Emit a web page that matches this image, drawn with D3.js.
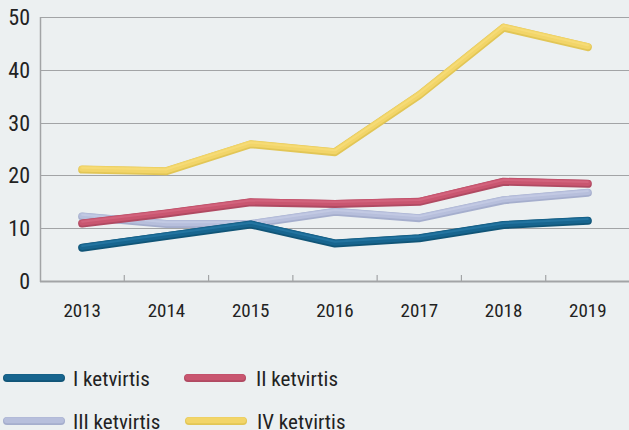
<!DOCTYPE html>
<html>
<head>
<meta charset="utf-8" />
<title>Ketvirčiai 2013–2019</title>
<style>
  html, body { margin: 0; padding: 0; background: #ecf0f1; }
  svg text { font-family: "Roboto Condensed", "Liberation Sans Narrow", "DejaVu Sans Condensed", Roboto, sans-serif; fill: #222; }
</style>
</head>
<body>
<script src="https://d3js.org/d3.v7.min.js"></script>
<script>

var years = ["2013", "2014", "2015", "2016", "2017", "2018", "2019"];
var yTicks = [0, 10, 20, 30, 40, 50];

var q1 = [6.3, 8.5, 10.7, 7.1, 8.1, 10.6, 11.4];
var q2 = [10.9, 12.8, 14.9, 14.6, 15.0, 18.8, 18.4];
var q3 = [12.2, 10.8, 10.8, 13.1, 11.9, 15.3, 16.7];
var q4 = [21.1, 20.8, 25.9, 24.4, 35.2, 48.0, 44.3];

var seriesNames = ["I ketvirtis", "II ketvirtis", "III ketvirtis", "IV ketvirtis"];
var seriesColors = ["#17658f", "#c95670", "#b7bfdc", "#f2d569"];
var seriesShade  = ["#115577", "#b04a62", "#a5aecd", "#e2c656"];
var seriesLight  = ["#2b7fab", "#d86d86", "#c9d0e8", "#f8e07e"];

var width = 629, height = 430;
var margin = {left: 40, right: 0, top: 17, bottom: 149};

var svg = d3.select("body").append("svg")
    .attr("width", width)
    .attr("height", height);

var x = d3.scaleBand()
    .domain(years)
    .range([margin.left, 630]);

var y = d3.scaleLinear()
    .domain([0, 50])
    .range([281, margin.top]);

// gridlines
svg.append("g")
  .selectAll("line")
  .data(yTicks.filter(d => d > 0))
  .join("line")
    .attr("x1", margin.left)
    .attr("x2", width)
    .attr("y1", d => Math.round(y(d)) + 0.5)
    .attr("y2", d => Math.round(y(d)) + 0.5)
    .attr("stroke", "#a2a4a6")
    .attr("stroke-width", 1);

// y labels
svg.append("g")
  .selectAll("text")
  .data(yTicks)
  .join("text")
    .attr("x", 30)
    .attr("y", d => y(d))
    .attr("dy", "0.36em")
    .attr("text-anchor", "end")
    .style("font-size", "22px")
    .text(d => d);

// axes
svg.append("line")
    .attr("x1", margin.left + 0.5).attr("x2", margin.left + 0.5)
    .attr("y1", y(50)).attr("y2", y(0) + 1)
    .attr("stroke", "#a2a4a6").attr("stroke-width", 1.5);

svg.append("line")
    .attr("x1", margin.left).attr("x2", width)
    .attr("y1", y(0) + 0.5).attr("y2", y(0) + 0.5)
    .attr("stroke", "#a2a4a6").attr("stroke-width", 1.8);

// category boundary ticks
svg.append("g")
  .selectAll("line")
  .data(years.slice(1))
  .join("line")
    .attr("x1", d => x(d)).attr("x2", d => x(d))
    .attr("y1", y(0)).attr("y2", y(0) - 6)
    .attr("stroke", "#a2a4a6").attr("stroke-width", 1.2);

// x labels
svg.append("g")
  .selectAll("text")
  .data(years)
  .join("text")
    .attr("x", d => x(d) + x.bandwidth() / 2)
    .attr("y", 317)
    .attr("text-anchor", "middle")
    .style("font-size", "19px")
    .text(d => d);

var line = d3.line()
    .x((d, i) => x(years[i]) + x.bandwidth() / 2)
    .y(d => y(d));

var series = [q1, q2, q3, q4];
var drawOrder = [2, 3, 0, 1];

drawOrder.forEach(function(k) {
  var g = svg.append("g");
  g.append("path")
    .attr("d", line(series[k]))
    .attr("fill", "none")
    .attr("stroke", seriesShade[k])
    .attr("stroke-width", 8)
    .attr("stroke-linecap", "round")
    .attr("stroke-linejoin", "round");
  g.append("path")
    .attr("d", line(series[k]))
    .attr("transform", "translate(0,-0.8)")
    .attr("fill", "none")
    .attr("stroke", seriesColors[k])
    .attr("stroke-width", 6)
    .attr("stroke-linecap", "round")
    .attr("stroke-linejoin", "round");
  g.append("path")
    .attr("d", line(series[k]))
    .attr("transform", "translate(0,-1.8)")
    .attr("fill", "none")
    .attr("stroke", seriesLight[k])
    .attr("stroke-width", 2)
    .attr("stroke-opacity", 0.6)
    .attr("stroke-linecap", "round")
    .attr("stroke-linejoin", "round");
});

// legend
var legendPos = [[7, 378], [188, 378], [7, 421], [189, 421]];
var legend = svg.append("g")
  .selectAll("g")
  .data(seriesNames)
  .join("g")
    .attr("transform", (d, i) => "translate(" + legendPos[i][0] + "," + legendPos[i][1] + ")");

legend.append("line")
    .attr("x1", 0).attr("x2", 54)
    .attr("y1", 0).attr("y2", 0)
    .attr("stroke", (d, i) => seriesShade[i])
    .attr("stroke-width", 8)
    .attr("stroke-linecap", "round");

legend.append("line")
    .attr("x1", 0).attr("x2", 54)
    .attr("y1", -0.8).attr("y2", -0.8)
    .attr("stroke", (d, i) => seriesColors[i])
    .attr("stroke-width", 6)
    .attr("stroke-linecap", "round");

legend.append("text")
    .attr("x", (d, i) => i % 2 === 0 ? 66 : 68)
    .attr("y", 0)
    .attr("dy", "0.36em")
    .style("font-size", "21px")
    .text(d => d);

</script>
</body>
</html>
